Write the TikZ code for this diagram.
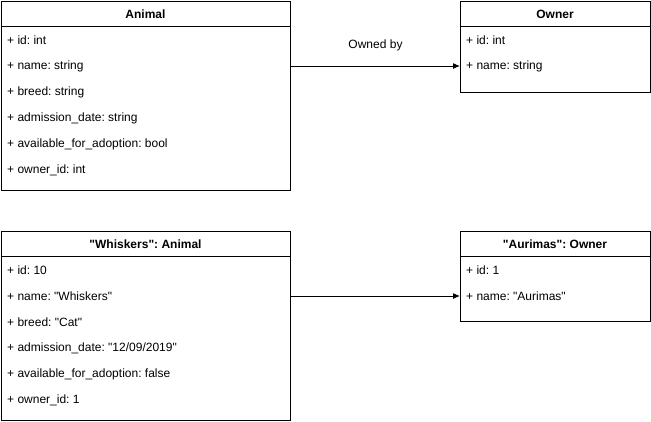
\documentclass[tikz,border=0pt]{standalone}
\usepackage{fontspec}
\setmainfont{Liberation Sans}[Ligatures=TeXOff]
\usetikzlibrary{positioning,arrows.meta}
\frenchspacing

\tikzset{
  classbox/.style={draw,line width=1pt,anchor=north west,inner sep=0pt},
  classtitle/.style={font=\fontsize{12}{14}\selectfont\bfseries,inner sep=0pt},
  attr/.style={font=\fontsize{12}{14}\selectfont,anchor=west,inner sep=0pt},
  link/.style={line width=1pt,-{Latex[length=7pt,width=6pt]}}
}

\begin{document}
\begin{tikzpicture}[x=1pt,y=-1pt]
  \useasboundingbox (0,0) rectangle (651,421);

  % class Animal
  \node[classbox,minimum width=289pt,minimum height=189pt] (animal) at (1,1) {};
  \draw[line width=1pt]
    ([yshift=-25pt]animal.north west) -- ([yshift=-25pt]animal.north east);
  \node[classtitle] (animaltitle) at (145.5,14) {Animal};
  \node[attr] (animalid) at (7,40) {+ id: int};
  \node[attr] (animalname) at (7,66) {+ name: string};
  \node[attr] (animalbreed) at (7,92) {+ breed: string};
  \node[attr] (animaldate) at (7,118) {+ admission\_date: string};
  \node[attr] (animalavail) at (7,144) {+ available\_for\_adoption: bool};
  \node[attr] (animalowner) at (7,170) {+ owner\_id: int};

  % class Owner
  \node[classbox,minimum width=190pt,minimum height=91pt] (owner) at (460,1) {};
  \draw[line width=1pt]
    ([yshift=-25pt]owner.north west) -- ([yshift=-25pt]owner.north east);
  \node[classtitle] (ownertitle) at (555,14) {Owner};
  \node[attr] (ownerid) at (466,40) {+ id: int};
  \node[attr] (ownername) at (466,66) {+ name: string};

  \draw[link]
    (animal.east |- animalname) -- (owner.west |- ownername)
    node[midway,above=11pt,font=\fontsize{12}{14}\selectfont] (ownedby) {Owned by};

  % object Whiskers
  \node[classbox,minimum width=289pt,minimum height=189pt] (whiskers) at (1,231) {};
  \draw[line width=1pt]
    ([yshift=-25pt]whiskers.north west) -- ([yshift=-25pt]whiskers.north east);
  \node[classtitle] (whiskerstitle) at (145.5,244) {"Whiskers": Animal};
  \node[attr] (whiskersid) at (7,270) {+ id: 10};
  \node[attr] (whiskersname) at (7,296) {+ name: "Whiskers"};
  \node[attr] (whiskersbreed) at (7,322) {+ breed: "Cat"};
  \node[attr] (whiskersdate) at (7,348) {+ admission\_date: "12/09/2019"};
  \node[attr] (whiskersavail) at (7,374) {+ available\_for\_adoption: false};
  \node[attr] (whiskersowner) at (7,400) {+ owner\_id: 1};

  % object Aurimas
  \node[classbox,minimum width=190pt,minimum height=90pt] (aurimas) at (460,231) {};
  \draw[line width=1pt]
    ([yshift=-25pt]aurimas.north west) -- ([yshift=-25pt]aurimas.north east);
  \node[classtitle] (aurimastitle) at (555,244) {"Aurimas": Owner};
  \node[attr] (aurimasid) at (466,270) {+ id: 1};
  \node[attr] (aurimasname) at (466,296) {+ name: "Aurimas"};

  \draw[link] (whiskers.east |- whiskersname) -- (aurimas.west |- aurimasname);
\end{tikzpicture}
\end{document}
